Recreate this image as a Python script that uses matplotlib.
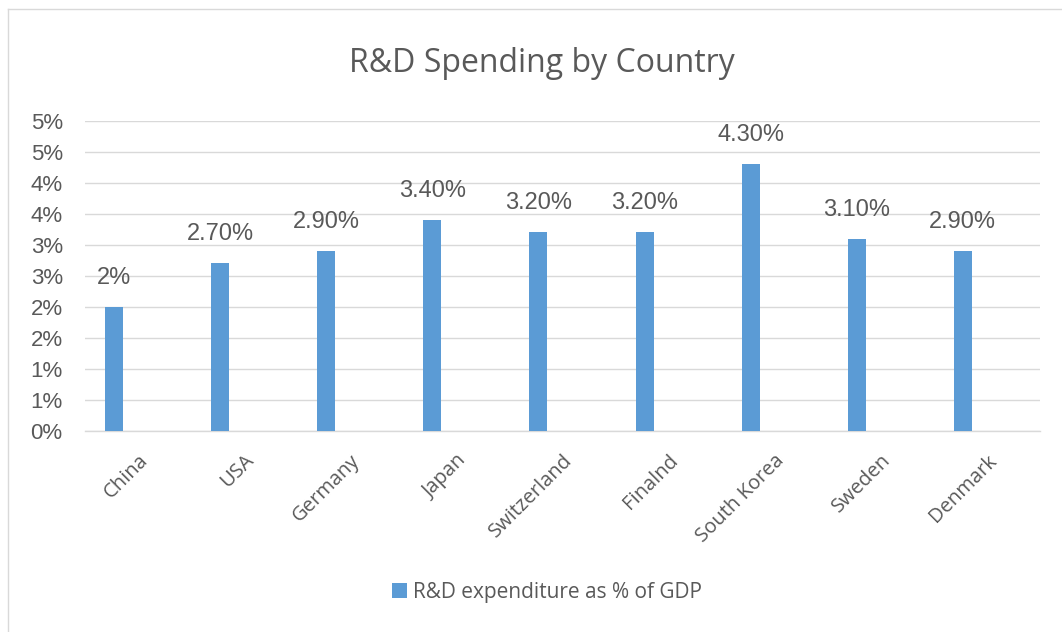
import matplotlib.pyplot as plt
from matplotlib.lines import Line2D
from matplotlib.ticker import FuncFormatter

countries = ["China", "USA", "Germany", "Japan", "Switzerland", "Finalnd",
             "South Korea", "Sweden", "Denmark"]
spending = [2.0, 2.7, 2.9, 3.4, 3.2, 3.2, 4.3, 3.1, 2.9]
value_labels = ["2%", "2.70%", "2.90%", "3.40%", "3.20%", "3.20%", "4.30%", "3.10%", "2.90%"]
series_name = "R&D expenditure as % of GDP"
y_ticks = [0, 0.5, 1, 1.5, 2, 2.5, 3, 3.5, 4, 4.5, 5]

text_color = "#595959"
bar_color = "#5B9BD5"
grid_color = "#D9D9D9"

fig = plt.figure(figsize=(10.62, 6.32), dpi=100)
ax = fig.add_axes([0.080, 0.318, 0.899, 0.491])

x = list(range(len(countries)))
bar_x = [i - 0.225 for i in x]
bars = ax.bar(bar_x, spending, width=0.17, color=bar_color, zorder=3, label=series_name)

for bx, v, lab in zip(bar_x, spending, value_labels):
    ax.annotate(lab, (bx, v), xytext=(0, 13), textcoords="offset points",
                ha="center", va="bottom", fontsize=17, color=text_color,
                family="Liberation Sans")

ax.set_xlim(-0.5, len(countries) - 0.5)
ax.set_ylim(0, 5)
ax.set_yticks(y_ticks)
ax.yaxis.set_major_formatter(FuncFormatter(lambda v, p: f"{int(v + 0.5)}%"))
ax.set_xticks(x)
ax.set_xticklabels(countries, rotation=45, ha="right", rotation_mode="anchor",
                   fontsize=14.5, color=text_color, family="Open Sans")
for t in ax.get_yticklabels():
    t.set_fontsize(16)
    t.set_color(text_color)
    t.set_family("Liberation Sans")
ax.tick_params(axis="y", length=0, pad=16)
ax.tick_params(axis="x", length=0, pad=14)

ax.grid(axis="y", color=grid_color, linewidth=1, zorder=0)
for s in ["top", "right", "left"]:
    ax.spines[s].set_visible(False)
ax.spines["bottom"].set_color(grid_color)
ax.spines["bottom"].set_linewidth(1)

fig.text(0.510, 0.900, "R&D Spending by Country", ha="center", va="center",
         fontsize=23, color=text_color, family="Open Sans")

fig.legend(handles=[bars], labels=[series_name], loc="center",
           bbox_to_anchor=(0.515, 0.063), frameon=False,
           handlelength=0.7, handleheight=0.7, handletextpad=0.3,
           labelcolor=text_color, prop={"family": "Open Sans", "size": 15})

# chart area border
fig.add_artist(Line2D([8 / 1062, 8 / 1062], [0, 1 - 9 / 632], color=grid_color, lw=1))
fig.add_artist(Line2D([8 / 1062, 1], [1 - 9 / 632, 1 - 9 / 632], color=grid_color, lw=1))

fig.savefig("out.png", dpi=100, facecolor="white")
